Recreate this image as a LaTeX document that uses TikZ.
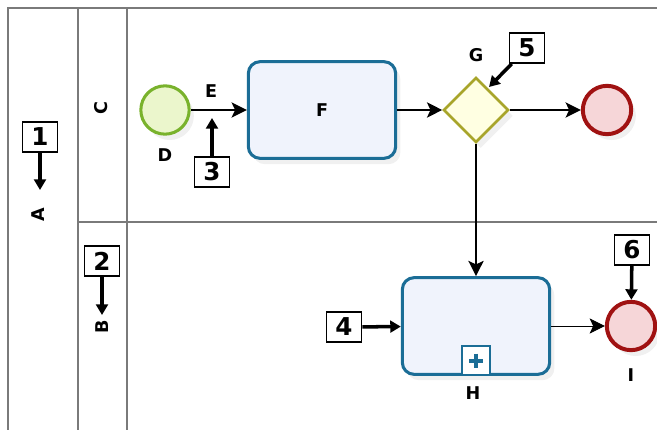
\documentclass[tikz,border=0pt]{standalone}
\usepackage{fontspec}
\setmainfont{DejaVu Sans}
\usetikzlibrary{positioning, arrows.meta, shapes.geometric, shadows}

\definecolor{laneGray}{HTML}{7A7A7A}
\definecolor{startLine}{HTML}{79B22C}
\definecolor{startFill}{HTML}{EBF6CC}
\definecolor{taskLine}{HTML}{1B6D96}
\definecolor{taskFill}{HTML}{F0F3FC}
\definecolor{gateLine}{HTML}{A8A52A}
\definecolor{gateFill}{HTML}{FFFFE2}
\definecolor{endLine}{HTML}{A01212}
\definecolor{endFill}{HTML}{F6D6D8}

\begin{document}
\begin{tikzpicture}[x=0.03cm, y=-0.03cm,
    lane/.style={draw=laneGray, line width=1.2pt},
    lbl/.style={font=\fontsize{15}{17}\selectfont\bfseries, inner sep=1pt},
    tag/.style={draw, fill=white, line width=1.5pt, minimum width=1.05cm, minimum height=0.9cm, inner sep=0pt, font=\fontsize{21}{23}\selectfont\bfseries},
    flow/.style={-{Stealth[length=13pt, width=13pt, inset=3pt]}, line width=1.6pt},
    callout/.style={-{Triangle[length=9pt, width=10pt]}, line width=3pt},
    soft/.style={drop shadow={opacity=0.12, shadow xshift=4pt, shadow yshift=-5pt}},
    startev/.style={circle, soft, draw=startLine, fill=startFill, line width=2.6pt, minimum size=1.45cm, inner sep=0pt},
    endev/.style={circle, soft, draw=endLine, fill=endFill, line width=3.4pt, minimum size=1.45cm, inner sep=0pt},
    task/.style={soft, draw=taskLine, fill=taskFill, line width=2.6pt, rounded corners=10pt, minimum width=4.42cm, minimum height=2.9cm, inner sep=0pt},
    gate/.style={diamond, soft, draw=gateLine, fill=gateFill, line width=2.2pt, minimum width=1.95cm, minimum height=1.95cm, inner sep=0pt}]

    \useasboundingbox (0,0) rectangle (657,430);

    % pool and lanes
    \draw[lane] (657,8) -- (8,8) -- (8,430);
    \draw[lane] (78,8) -- (78,430);
    \draw[lane] (127,8) -- (127,430);
    \draw[lane] (78,222) -- (657,222);
    \node[lbl, rotate=90] (pool) at (38,215) {A};
    \node[lbl, rotate=90] (laneC) at (101,108) {C};
    \node[lbl, rotate=90] (laneB) at (102,327) {B};

    % upper lane
    \node[startev] (start) at (165,110) {};
    \node[task] (taskF) at (322,110) {};
    \node[lbl] at (taskF) {F};
    \node[gate] (gate) at (476,110) {};
    \node[endev] (endC) at (607,110) {};
    \node[lbl] (labD) at (165,155) {D};
    \node[lbl] (labE) at (211,91) {E};
    \node[lbl] (labG) at (476,55) {G};

    % lower lane
    \node[task] (taskH) at (476,326) {};
    \node[draw=taskLine, fill=white, line width=1.6pt, minimum width=0.84cm, minimum height=0.86cm, inner sep=0pt, anchor=south] (mark) at (476,376) {};
    \draw[taskLine, line width=3.4pt] (mark.center) ++(0,-7) -- ++(0,14);
    \draw[taskLine, line width=3.4pt] (mark.center) ++(-7,0) -- ++(14,0);
    \node[endev] (endB) at (631,326) {};
    \node[lbl] (labH) at (473,393) {H};
    \node[lbl] (labI) at (631,375) {I};

    % flows
    \draw[flow] (start) -- (taskF);
    \draw[flow] (taskF) -- (gate);
    \draw[flow] (gate) -- (endC);
    \draw[flow] (gate) -- (taskH);
    \draw[-{Stealth[length=13pt, width=13pt, inset=3pt]}, line width=0.8pt] (taskH) -- (endB);

    % numbered callouts
    \node[tag] (n1) at (40,137) {1};
    \node[tag] (n2) at (102,261) {2};
    \node[tag] (n3) at (212,172) {3};
    \node[tag] (n4) at (344,327) {4};
    \node[tag] (n5) at (527,48) {5};
    \node[tag] (n6) at (632,250) {6};
    \coordinate (p1) at (40,190);
    \coordinate (p2) at (102,315);
    \coordinate (p3) at (212,118);
    \coordinate (p5) at (489,87);

    \draw[callout] (n1) -- (p1);
    \draw[callout] (n2) -- (p2);
    \draw[callout] (n3) -- (p3);
    \draw[callout] (n4) -- (taskH);
    \draw[callout] (n5.south west) ++(3,0) -- (p5);
    \draw[callout] (n6) -- (endB);
\end{tikzpicture}
\end{document}
